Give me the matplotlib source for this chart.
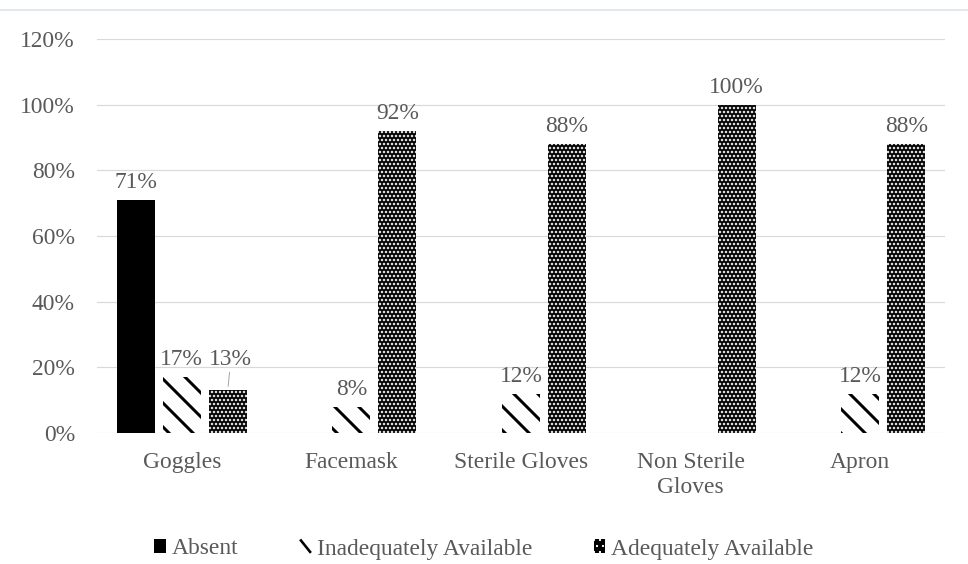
import matplotlib
matplotlib.use("Agg")
import matplotlib.pyplot as plt
import numpy as np
from matplotlib.patches import Patch
from matplotlib.lines import Line2D
from matplotlib.legend_handler import HandlerBase

categories = ["Goggles", "Facemask", "Sterile Gloves", "Non Sterile\nGloves", "Apron"]
absent = [71, 0, 0, 0, 0]
inadequate = [17, 8, 12, 0, 12]
adequate = [13, 92, 88, 100, 88]
series_names = ["Absent", "Inadequately Available", "Adequately Available"]
yticks = [0, 20, 40, 60, 80, 100, 120]

TXT = "#595959"
GRID = "#d9d9d9"
FS = 23.5

plt.rcParams['font.family'] = ['Liberation Serif', 'DejaVu Serif']

DPI = 72
fig = plt.figure(figsize=(968 / DPI, 564 / DPI), dpi=DPI)
ax = fig.add_axes([97 / 968, 1 - 433 / 564, 848 / 968, 394 / 564])

x = np.arange(len(categories))
w = 0.224
step = 0.271

with plt.rc_context({'hatch.linewidth': 3.0}):
    b0 = ax.bar(x - step, absent, w, color="black", linewidth=0, zorder=3)
    b1 = ax.bar(x, inadequate, w, facecolor="white", edgecolor="black",
                hatch="\\", linewidth=0, zorder=3)
with plt.rc_context({'hatch.linewidth': 1.7}):
    b2 = ax.bar(x + step, adequate, w, facecolor="black", edgecolor="white",
                hatch="...", linewidth=0, zorder=3)
    h2 = Patch(facecolor='black', edgecolor='white', hatch='..', linewidth=0)
h0 = Patch(facecolor='black', edgecolor='black', linewidth=0)
h1 = Line2D([], [], color='black')


class DiagHandler(HandlerBase):
    def create_artists(self, legend, orig_handle, xdescent, ydescent, width,
                       height, fontsize, trans):
        x0, y0 = -xdescent, -ydescent
        ln = Line2D([x0 + 0.5, x0 + width - 0.5], [y0 + height, y0],
                    color='black', lw=2.6, transform=trans, solid_capstyle='butt')
        return [ln]


ax.set_xlim(-0.5, len(categories) - 0.5)
ax.set_ylim(0, 120)
ax.set_yticks(yticks)
ax.set_yticklabels([f"{v}%" for v in yticks])
ax.set_xticks(x)
ax.set_xticklabels(categories, linespacing=1.25)
ax.tick_params(axis='both', length=0, labelsize=FS, colors=TXT)
ax.tick_params(axis='y', pad=22)
ax.tick_params(axis='x', pad=19)
ax.grid(axis='y', color=GRID, linewidth=1.2, zorder=0)
for s in ax.spines.values():
    s.set_visible(False)

# data labels
for offs, vals in [(-step, absent), (0, inadequate), (step, adequate)]:
    for i, v in enumerate(vals):
        if v == 0:
            continue
        if offs == step and i == 0:
            ax.annotate(f"{v}%", xy=(x[i] + offs, v), xytext=(3, 20),
                        textcoords='offset points', ha='center', va='bottom',
                        fontsize=FS, color=TXT,
                        arrowprops=dict(arrowstyle='-', color='#a6a6a6', lw=1,
                                        shrinkA=0, shrinkB=4))
        else:
            ax.annotate(f"{v}%", xy=(x[i] + offs, v), xytext=(0, 7),
                        textcoords='offset points', ha='center', va='bottom',
                        fontsize=FS, color=TXT)

leg = fig.legend([h0, h1, h2], series_names, loc='center',
                 bbox_to_anchor=(0.5, 1 - 549 / 564),
                 handler_map={Line2D: DiagHandler()},
                 ncol=3, frameon=False, fontsize=FS, handlelength=0.5, handleheight=0.5,
                 handletextpad=0.25, columnspacing=2.6)
for t in leg.get_texts():
    t.set_color(TXT)

fig.add_artist(Line2D([0, 1], [1 - 10 / 564, 1 - 10 / 564], color='#d9dee8', lw=1.5,
                      transform=fig.transFigure))

fig.savefig("out.png", dpi=DPI)
